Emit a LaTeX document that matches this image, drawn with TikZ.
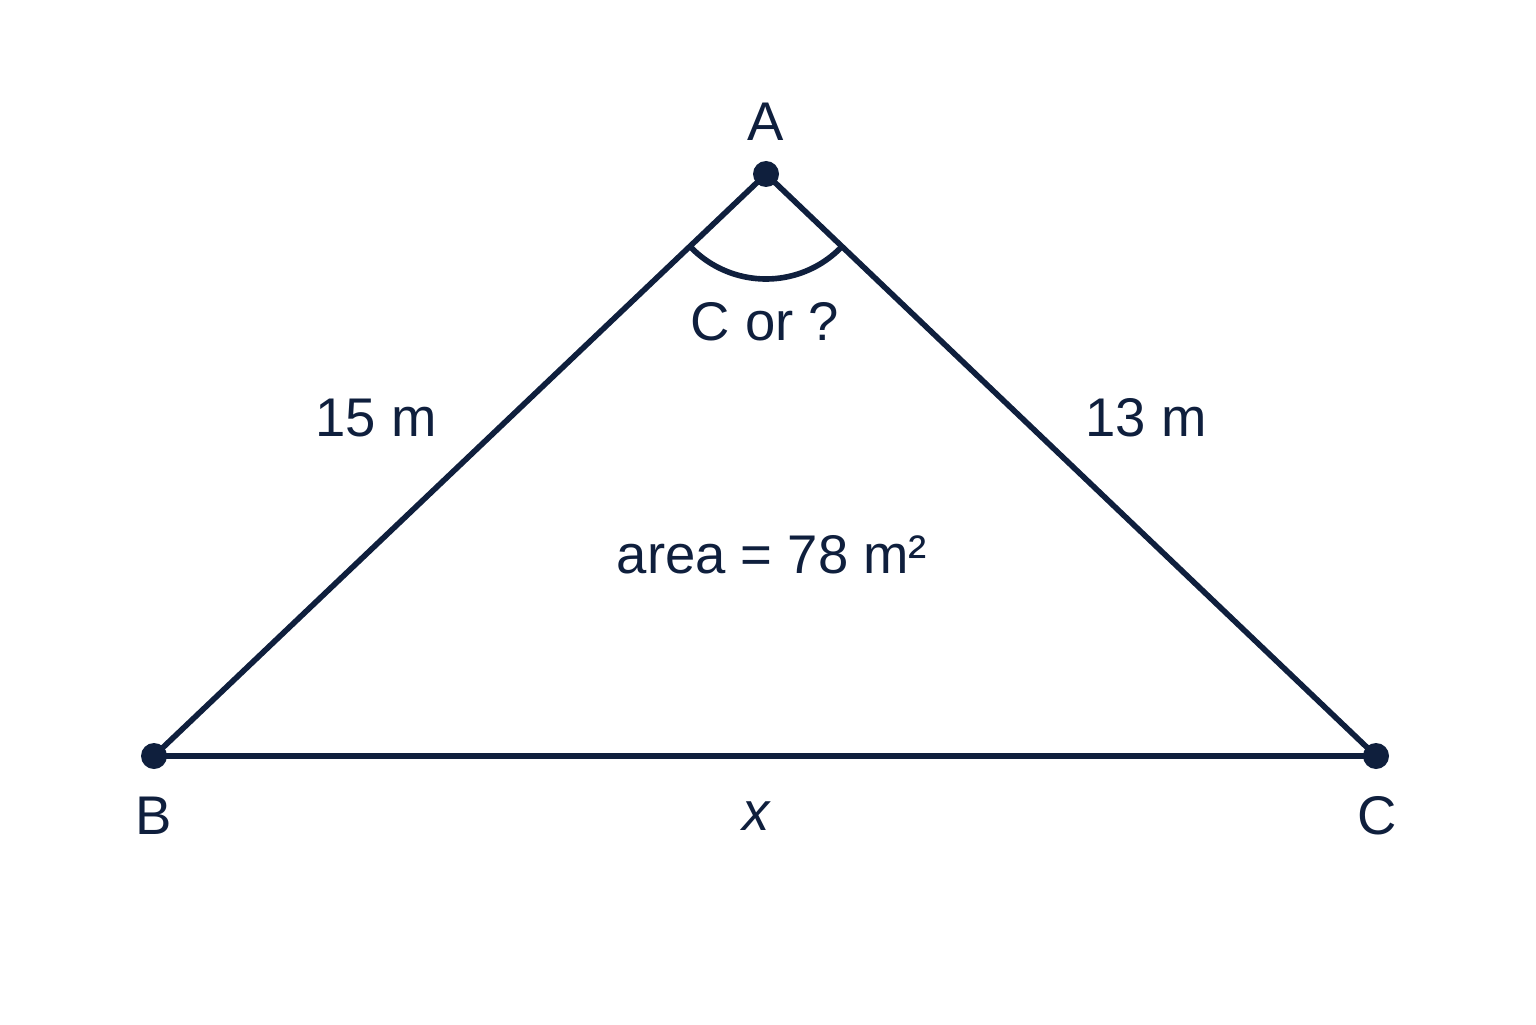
\documentclass[tikz,border=0pt]{standalone}
\usepackage{fontspec}
\setmainfont{Liberation Sans}
\usetikzlibrary{positioning}
\definecolor{navy}{HTML}{0F1F3D}
\tikzset{
        % Vertices
        vertex/.style={circle, fill=navy, inner sep=0pt, minimum size=0.26cm},
        % Sides of the triangle
        side/.style={draw=navy, line width=1.6pt},
        % Labels
        lbl/.style={text=navy, font=\fontsize{15.5}{18}\selectfont, inner sep=0pt}
}
\begin{document}
\begin{tikzpicture}
    \useasboundingbox (0,0) rectangle (15.36,10.24);
    \node[vertex] (A) at (7.66,8.50) {};
    \node[vertex] (B) at (1.54,2.68) {};
    \node[vertex] (C) at (13.76,2.68) {};
    \draw[side] (A.center) -- (B.center) -- (C.center) -- cycle;
    % angle at A
    \draw[side] ([shift={(223.6:1.05)}]A.center) arc[start angle=223.6, end angle=316.4, radius=1.05];
    \node[lbl] (labA) at (7.66,9.02) {A};
    \node[lbl] (labB) at (1.54,2.08) {B};
    \node[lbl] (labC) at (13.77,2.08) {C};
    \node[lbl] (labx) at (7.56,2.08) {\itshape x};
    \node[lbl] (labAB) at (3.76,6.06) {15 m};
    \node[lbl] (labAC) at (11.46,6.06) {13 m};
    \node[lbl] (labang) at (7.65,7.02) {C or ?};
    \node[lbl] (labarea) at (7.72,4.69) {area = 78 m²};
\end{tikzpicture}
\end{document}
